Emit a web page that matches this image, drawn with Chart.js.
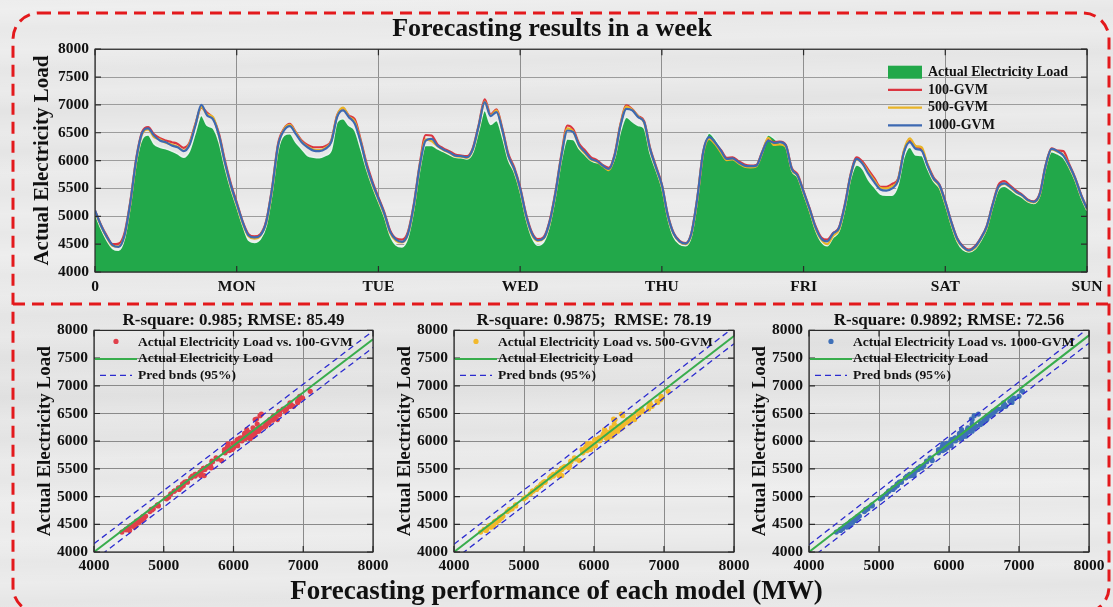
<!DOCTYPE html>
<html>
<head>
<meta charset="utf-8">
<script src="https://cdn.jsdelivr.net/npm/chart.js@4.4.1/dist/chart.umd.min.js"></script>
<style>
  html, body { margin: 0; padding: 0; }
  body {
    width: 1113px; height: 607px; position: relative; overflow: hidden;
    background-color: #e7e7e7;
    background-image:
      linear-gradient(178deg, rgba(255,255,255,0.25) 0%, rgba(255,255,255,0) 18%, rgba(255,255,255,0.2) 40%, rgba(0,0,0,0.02) 60%, rgba(255,255,255,0.22) 80%, rgba(255,255,255,0) 100%),
      repeating-linear-gradient(179deg, rgba(255,255,255,0) 0px, rgba(255,255,255,0.12) 9px, rgba(255,255,255,0) 19px, rgba(0,0,0,0.015) 29px, rgba(255,255,255,0) 41px);
  }
  canvas { position: absolute; }
  #frame { left: 0; top: 0; pointer-events: none; z-index: 5; }
  #week { left: 17px; top: 0; }
  #s100 { left: 0; top: 300px; }
  #s500 { left: 360px; top: 300px; }
  #s1000 { left: 715px; top: 300px; }
  #xname {
    position: absolute; left: 0; width: 1113px; top: 575px; line-height: 30px;
    text-align: center; font: bold 27px 'Liberation Serif', 'Times New Roman', serif; color: #111;
  }
</style>
</head>
<body>
<canvas id="week" width="1096" height="300"></canvas>
<canvas id="s100" width="395" height="282"></canvas>
<canvas id="s500" width="395" height="282"></canvas>
<canvas id="s1000" width="398" height="282"></canvas>
<div id="xname">Forecasting performance of each model (MW)</div>
<canvas id="frame" width="1113" height="607"></canvas>
<script>
// hourly load over one week (index = hour, 0..168)
const dayTicks = ['0', 'MON', 'TUE', 'WED', 'THU', 'FRI', 'SAT', 'SUN'];

const actualLoad = [
  5050,4780,4570,4420,4390,4600,5200,5970,6390,6460,
  6300,6240,6210,6170,6120,6060,6170,6500,6810,6630,
  6580,6330,5880,5490,5170,4840,4570,4530,4590,4830,
  5420,6180,6450,6480,6330,6210,6090,6060,6050,6090,
  6180,6690,6750,6630,6540,6210,5840,5530,5260,4990,
  4650,4480,4450,4620,5130,5830,6270,6270,6210,6160,
  6110,6060,6050,6030,6150,6540,6900,6650,6720,6420,
  6010,5790,5440,4960,4620,4480,4540,4840,5370,6010,
  6390,6380,6210,6100,6000,5960,5950,5850,6040,6520,
  6780,6700,6630,6580,6130,5830,5510,4970,4630,4500,
  4470,4640,5270,6120,6490,6390,6210,6020,6030,5960,
  5900,5890,5900,6140,6460,6400,6310,6240,5820,5700,
  5400,5100,4760,4540,4470,4620,4730,5140,5680,5920,
  5850,5650,5520,5400,5380,5380,5560,6060,6240,6100,
  6090,5850,5630,5510,5210,4850,4550,4400,4360,4410,
  4560,4770,5160,5480,5540,5480,5400,5340,5260,5230,
  5370,5870,6160,6120,6050,5870,5640,5340,5100
];
const gvm100 = [
  5100,4850,4650,4500,4510,4700,5280,6050,6520,6600,
  6470,6400,6360,6330,6300,6230,6320,6660,6950,6860,
  6760,6480,6000,5590,5250,4910,4680,4640,4680,4920,
  5520,6300,6570,6660,6510,6360,6280,6240,6240,6260,
  6360,6810,6940,6810,6740,6370,5950,5620,5340,5070,
  4740,4600,4580,4720,5220,5940,6460,6450,6290,6220,
  6170,6110,6090,6080,6230,6650,7100,6830,6920,6570,
  6120,5880,5520,5040,4710,4590,4630,4920,5450,6120,
  6630,6560,6300,6180,6060,6010,5920,5870,6110,6660,
  6990,6920,6800,6710,6230,5900,5570,5030,4700,4560,
  4520,4700,5330,6160,6400,6310,6190,6050,6060,5990,
  5930,5910,5920,6160,6380,6330,6340,6280,5870,5750,
  5450,5150,4830,4620,4580,4700,4800,5220,5770,6060,
  5980,5830,5680,5530,5530,5580,5670,6170,6360,6250,
  6200,5930,5700,5570,5270,4910,4610,4460,4400,4460,
  4610,4820,5210,5560,5630,5550,5460,5390,5300,5270,
  5410,5920,6220,6180,6170,5930,5690,5390,5150
];
const gvm500 = [
  5090,4830,4620,4470,4460,4650,5240,6010,6480,6560,
  6420,6380,6320,6290,6250,6180,6300,6640,6960,6830,
  6780,6440,5960,5540,5210,4880,4640,4600,4650,4880,
  5480,6260,6560,6640,6500,6340,6250,6200,6190,6230,
  6340,6800,6950,6790,6700,6340,5900,5570,5300,5030,
  4700,4560,4530,4680,5180,5900,6380,6350,6260,6190,
  6140,6080,6070,6050,6200,6620,7060,6810,6900,6530,
  6080,5840,5480,5000,4670,4560,4600,4880,5420,6080,
  6580,6520,6260,6130,6020,5980,5900,5830,6080,6640,
  6970,6910,6790,6680,6200,5870,5540,5000,4680,4540,
  4500,4680,5300,6130,6390,6300,6150,6010,6020,5950,
  5890,5880,5900,6140,6410,6280,6290,6250,5840,5720,
  5420,5120,4790,4580,4500,4650,4760,5180,5740,6020,
  5950,5790,5640,5510,5500,5540,5650,6180,6400,6260,
  6240,5920,5670,5540,5240,4880,4580,4440,4380,4430,
  4590,4790,5190,5520,5580,5520,5430,5370,5280,5250,
  5390,5900,6200,6160,6100,5900,5670,5370,5130
];
const gvm1000 = [
  5106,4840,4630,4480,4450,4660,5260,6030,6500,6580,
  6450,6360,6330,6270,6240,6170,6280,6630,7000,6810,
  6740,6450,5970,5560,5230,4900,4660,4620,4660,4900,
  5500,6270,6540,6620,6480,6330,6240,6180,6170,6210,
  6330,6780,6900,6780,6660,6330,5910,5590,5320,5050,
  4720,4580,4540,4690,5200,5910,6360,6390,6270,6200,
  6150,6090,6080,6060,6210,6630,7050,6800,6870,6540,
  6090,5850,5500,5020,4690,4570,4610,4900,5430,6090,
  6540,6510,6270,6150,6030,5990,5910,5850,6090,6630,
  6930,6900,6780,6690,6210,5880,5560,5020,4690,4550,
  4510,4690,5320,6150,6420,6330,6180,6030,6040,5970,
  5910,5900,5910,6150,6360,6320,6330,6270,5850,5730,
  5440,5140,4810,4600,4550,4690,4790,5200,5750,6030,
  5940,5760,5610,5480,5460,5500,5640,6150,6330,6210,
  6180,5910,5680,5560,5260,4900,4600,4450,4390,4450,
  4600,4810,5200,5530,5590,5530,5440,5380,5290,5260,
  5400,5910,6210,6170,6090,5910,5680,5380,5140
];

// fitted line and 95% prediction bounds, read at x = 4000 and x = 8000
const fitX = [4000, 8000];
const fit100 = [4000, 7840], upper100 = [4150, 7990], lower100 = [3850, 7690];
const fit500 = [4000, 7900], upper500 = [4140, 8060], lower500 = [3860, 7760];
const fit1000 = [4000, 7910], upper1000 = [4130, 8050], lower1000 = [3860, 7770];

const serif = "'Liberation Serif', 'Times New Roman', serif";
Chart.defaults.font.family = serif;
Chart.defaults.font.weight = 'bold';
Chart.defaults.color = '#111';
Chart.defaults.animation = false;

const asPoints = arr => arr.map((v, i) => ({ x: i, y: v }));
const pairs = (xs, ys) => xs.map((v, i) => ({ x: v, y: ys[i] }));
const plain = v => String(v);

// box around the plot with inward ticks, matlab style
const frameBox = {
  id: 'frameBox',
  afterDatasetsDraw(chart) {
    const { ctx, chartArea: a, scales: { x, y } } = chart;
    ctx.save();
    ctx.strokeStyle = '#2a2a2a';
    ctx.lineWidth = 1.2;
    ctx.strokeRect(a.left, a.top, a.right - a.left, a.bottom - a.top);
    ctx.beginPath();
    x.ticks.forEach(t => {
      const px = x.getPixelForValue(t.value);
      ctx.moveTo(px, a.top); ctx.lineTo(px, a.top + 6);
      ctx.moveTo(px, a.bottom); ctx.lineTo(px, a.bottom - 6);
    });
    y.ticks.forEach(t => {
      const py = y.getPixelForValue(t.value);
      ctx.moveTo(a.right, py); ctx.lineTo(a.right - 6, py);
      ctx.moveTo(a.left, py); ctx.lineTo(a.left + 6, py);
    });
    ctx.stroke();
    ctx.restore();
  }
};

// legend drawn inside the plot area
const cornerLegend = {
  id: 'cornerLegend',
  afterDraw(chart, args, o) {
    const { ctx, chartArea: a } = chart;
    const x0 = o.anchor === 'right' ? a.right + o.dx : a.left + o.dx;
    let y = a.top + o.dy;
    const seen = new Set();
    ctx.save();
    ctx.font = 'bold ' + o.size + 'px ' + serif;
    ctx.textBaseline = 'middle';
    chart.data.datasets.forEach(ds => {
      if (seen.has(ds.label)) return;
      seen.add(ds.label);
      const w = o.symbolWidth;
      if (ds.symbol === 'box') {
        ctx.fillStyle = ds.backgroundColor;
        ctx.fillRect(x0, y - 6.5, w, 13);
      } else if (ds.symbol === 'dot') {
        ctx.fillStyle = ds.backgroundColor;
        ctx.beginPath();
        ctx.arc(x0 + w / 2, y - 1, ds.pointRadius, 0, Math.PI * 2);
        ctx.fill();
      } else {
        ctx.strokeStyle = ds.borderColor;
        ctx.lineWidth = ds.borderWidth;
        ctx.setLineDash(ds.borderDash || []);
        ctx.beginPath();
        const inset = ds.borderDash ? 5 : 0;
        ctx.moveTo(x0 + inset, y); ctx.lineTo(x0 + w - inset, y);
        ctx.stroke();
        ctx.setLineDash([]);
      }
      ctx.fillStyle = '#111';
      ctx.fillText(ds.label, x0 + o.textGap, y);
      y += o.rowHeight;
    });
    ctx.restore();
  }
};

new Chart(document.getElementById('week'), {
  type: 'line',
  data: {
    datasets: [
      { label: 'Actual Electricity Load', data: asPoints(actualLoad), fill: 'start', symbol: 'box',
        backgroundColor: '#22a84a', borderColor: 'rgba(236,246,242,0.95)', borderWidth: 1.5, pointRadius: 0, order: 4 },
      { label: '100-GVM', data: asPoints(gvm100), borderColor: '#db3540', borderWidth: 2.2, pointRadius: 0, order: 3 },
      { label: '500-GVM', data: asPoints(gvm500), borderColor: '#e9b428', borderWidth: 2.2, pointRadius: 0, order: 2 },
      { label: '1000-GVM', data: asPoints(gvm1000), borderColor: '#3d69b2', borderWidth: 2.2, pointRadius: 0, order: 1 }
    ]
  },
  options: {
    responsive: false,
    elements: { line: { cubicInterpolationMode: 'monotone' } },
    layout: { padding: { top: 14, right: 26, left: 0, bottom: 0 } },
    plugins: {
      legend: { display: false },
      tooltip: { enabled: false },
      title: { display: true, text: 'Forecasting results in a week', font: { size: 26, weight: 'bold' },
        color: '#111', padding: { top: 0, bottom: 4 } },
      cornerLegend: { anchor: 'right', dx: -199, dy: 23, rowHeight: 17.7, symbolWidth: 34, textGap: 40, size: 14 }
    },
    scales: {
      x: {
        type: 'linear', min: 0, max: 168,
        ticks: { stepSize: 24, autoSkip: false, maxRotation: 0, padding: 6, font: { size: 15.5 },
          callback: v => dayTicks[v / 24] },
        grid: { color: '#8f8f8f', drawTicks: false },
        border: { display: false },
        afterFit(s) { s.height = 28; }
      },
      y: {
        min: 4000, max: 8000,
        ticks: { stepSize: 500, padding: 6, font: { size: 15.5 }, callback: plain },
        grid: { color: '#9c9c9c', drawTicks: false },
        border: { display: false },
        title: { display: true, text: 'Actual Electricity Load', font: { size: 21, weight: 'bold' },
          padding: { top: 13, bottom: 0 } },
        afterFit(s) { s.width = 78; }
      }
    }
  },
  plugins: [frameBox, cornerLegend]
});

function scatterChart(id, title, pred, dotColor, name, fitY, upperY, lowerY, padRight) {
  return new Chart(document.getElementById(id), {
    type: 'scatter',
    data: {
      datasets: [
        { label: 'Actual Electricity Load vs. ' + name, data: pairs(pred, actualLoad), symbol: 'dot',
          backgroundColor: dotColor, borderWidth: 0, pointRadius: 2.6, order: 3 },
        { label: 'Actual Electricity Load', data: pairs(fitX, fitY), showLine: true, symbol: 'line',
          borderColor: '#38ad4c', borderWidth: 2, pointRadius: 0, order: 2 },
        { label: 'Pred bnds (95%)', data: pairs(fitX, upperY), showLine: true, symbol: 'dash',
          borderColor: '#2b2bcf', borderWidth: 1.3, borderDash: [6, 4], pointRadius: 0, order: 1 },
        { label: 'Pred bnds (95%)', data: pairs(fitX, lowerY), showLine: true, symbol: 'dash',
          borderColor: '#2b2bcf', borderWidth: 1.3, borderDash: [6, 4], pointRadius: 0, order: 1 }
      ]
    },
    options: {
      responsive: false,
      layout: { padding: { top: 10, right: padRight, left: 0, bottom: 0 } },
      plugins: {
        legend: { display: false },
        tooltip: { enabled: false },
        title: { display: true, text: title, fullSize: false, font: { size: 17, weight: 'bold' },
          color: '#111', padding: { top: 0, bottom: 0 } },
        cornerLegend: { anchor: 'left', dx: 1, dy: 12, rowHeight: 16.5, symbolWidth: 42, textGap: 43, size: 13.5 }
      },
      scales: {
        x: {
          type: 'linear', min: 4000, max: 8000,
          ticks: { stepSize: 1000, maxRotation: 0, padding: 5, font: { size: 15.5 }, callback: plain },
          grid: { color: '#8a8a8a', drawTicks: false },
          border: { display: false },
          afterFit(s) { s.height = 30; }
        },
        y: {
          min: 4000, max: 8000,
          ticks: { stepSize: 500, padding: 6, font: { size: 15.5 }, callback: plain },
          grid: { color: '#8a8a8a', drawTicks: false },
          border: { display: false },
          title: { display: true, text: 'Actual Electricity Load', font: { size: 19, weight: 'bold' },
            padding: { top: 34, bottom: 0 } },
          afterFit(s) { s.width = 94; }
        }
      }
    },
    plugins: [frameBox, cornerLegend]
  });
}

scatterChart('s100', 'R-square: 0.985; RMSE: 85.49', gvm100, '#e0404b', '100-GVM', fit100, upper100, lower100, 22);
scatterChart('s500', 'R-square: 0.9875;  RMSE: 78.19', gvm500, '#f2b92c', '500-GVM', fit500, upper500, lower500, 21);
scatterChart('s1000', 'R-square: 0.9892; RMSE: 72.56', gvm1000, '#3f70b8', '1000-GVM', fit1000, upper1000, lower1000, 24);

// red dashed panel frame
const fc = document.getElementById('frame').getContext('2d');
fc.strokeStyle = '#e3191c';
fc.lineWidth = 3;
fc.setLineDash([12, 7]);
const L = 13, T = 13, R = 1109, B = 613, rad = 26;
fc.beginPath();
fc.moveTo(L + rad, T);
fc.arcTo(R, T, R, B, rad);
fc.arcTo(R, B, L, B, rad);
fc.arcTo(L, B, L, T, rad);
fc.arcTo(L, T, R, T, rad);
fc.closePath();
fc.stroke();
fc.beginPath();
fc.moveTo(L, 304);
fc.lineTo(R, 304);
fc.stroke();
</script>
</body>
</html>
